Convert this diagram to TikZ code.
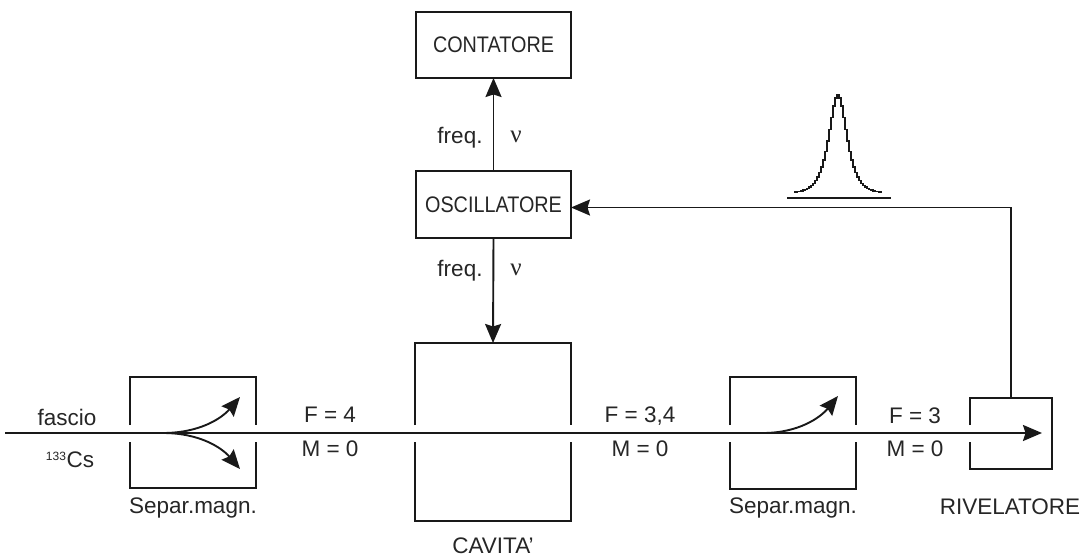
\documentclass[tikz,border=0pt]{standalone}
\usepackage{fontspec}
\setmainfont{Liberation Sans}
\newfontfamily\narrowfont[FakeStretch=0.88]{Liberation Sans}
\newfontfamily\greekfont{Liberation Serif}
\usetikzlibrary{arrows.meta}

\begin{document}
\begin{tikzpicture}[x=1pt,y=-1pt,
  every node/.style={inner sep=0pt, outer sep=0pt},
  lbl/.style={font=\fontsize{22.5}{25}\selectfont, text=black!85},
  nu/.style={font=\greekfont\fontsize{25}{27}\selectfont, text=black!85},
  wire/.style={line width=1.9pt, draw=black!90},
  arr/.style={wire, -{Stealth[length=19pt,width=16pt,inset=2.5pt]}},
  unit/.style={wire, font=\narrowfont\fontsize{22.5}{25}\selectfont, text=black!85,
    minimum width=155pt, minimum height=66pt},
  frame/.style 2 args={minimum width=#1, minimum height=#2},
]
\useasboundingbox[fill=white] (0,0) rectangle (1082,557);

% electronics: counter and oscillator
\node[unit] (cont) at (493.5,45) {CONTATORE};
\node[unit, minimum height=67pt] (osc) at (493.5,204.5) {OSCILLATORE};

% beam-line elements (outlines drawn below, open where the beam passes)
\node[frame={126pt}{111pt}] (sep1) at (193,432.5) {};
\node[frame={156pt}{178pt}] (cav) at (493,432) {};
\node[frame={126pt}{112pt}] (sep2) at (793,433) {};
\node[frame={82pt}{71pt}] (riv) at (1011,433.5) {};

\coordinate (src) at (5,433);
\coordinate (tip) at (1042,433);

% open-sided frames
\foreach \b in {sep1,cav,sep2}{
  \draw[wire] ([yshift=8pt]\b.west |- tip) -- (\b.north west) -- (\b.north east) -- ([yshift=8pt]\b.east |- tip);
  \draw[wire] ([yshift=-9pt]\b.west |- tip) -- (\b.south west) -- (\b.south east) -- ([yshift=-9pt]\b.east |- tip);
}
\draw[wire] ([yshift=8pt]riv.west |- tip) -- (riv.north west) -- (riv.north east)
  -- (riv.south east) -- (riv.south west) -- ([yshift=-9pt]riv.west |- tip);

% atomic beam
\draw[arr] (src) -- (tip);

% state selection inside the magnets
\coordinate (s1) at (163,433);
\draw[arr] (s1) .. controls (200,433) and (222,418) .. (240,397);
\draw[arr] (s1) .. controls (200,433) and (222,448) .. (240,469);
\coordinate (s2) at (763,433);
\draw[arr] (s2) .. controls (798,433) and (820,418) .. (838,396);

% frequency links and feedback loop
\draw[arr] (osc.north) -- (cont.south);
\draw[arr] (osc.south) -- (cav.north);
\draw[arr] (riv.north) |- ([yshift=-3pt]osc.east);

% resonance line shape
\draw[wire, line width=1.5pt] plot[const plot mark mid, domain=-44:44, samples=45]
  ({838+\x}, {193-98/cosh(\x/8)});
\draw[wire, line width=1.5pt] (787,198) -- (891,198);

% labels
\node[lbl] (lfascio) at (67,417) {fascio};
\node[lbl] (lcs) at (70,460) {\textsuperscript{\fontsize{12}{12}\selectfont 133}Cs};
\node[lbl] (lf1) at (330,415) {F = 4};
\node[lbl] (lm1) at (330,449) {M = 0};
\node[lbl] (lf2) at (640,416) {F = 3,4};
\node[lbl] (lm2) at (640,449) {M = 0};
\node[lbl] (lf3) at (915,416) {F = 3};
\node[lbl] (lm3) at (915,449) {M = 0};
\node[lbl] (ls1) at (193,508) {Separ.magn.};
\node[lbl] (ls2) at (793,508) {Separ.magn.};
\node[lbl] (lcav) at (493,546) {CAVITA'};
\node[lbl] (lriv) at (1010,507) {RIVELATORE};
\node[lbl] (lfq1) at (460,138) {freq.};
\node[nu] (lnu1) at (516,137) {ν};
\node[lbl] (lfq2) at (460,271) {freq.};
\node[nu] (lnu2) at (516,270) {ν};
\end{tikzpicture}
\end{document}
